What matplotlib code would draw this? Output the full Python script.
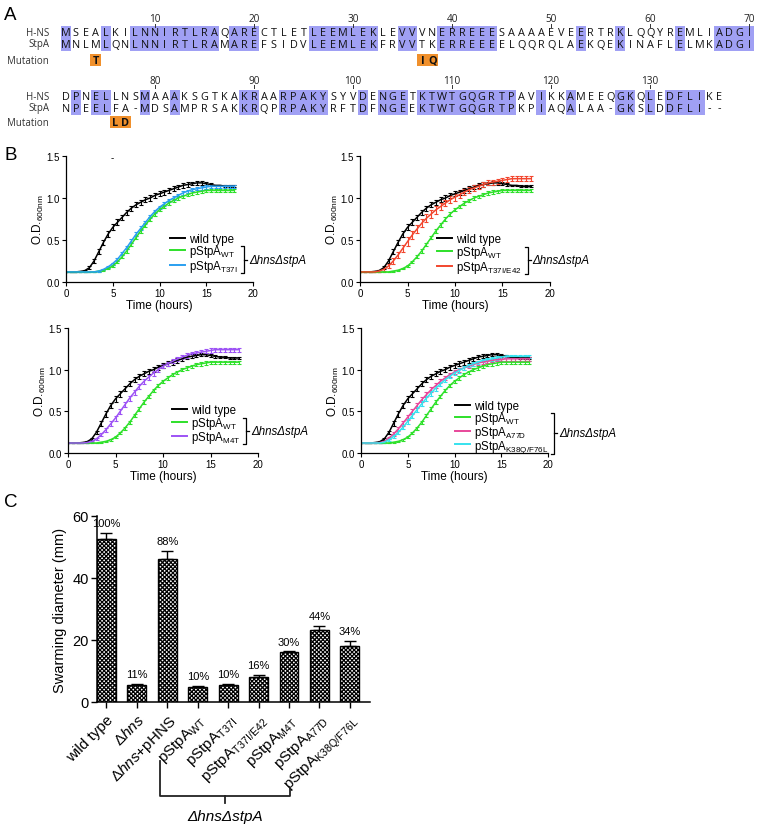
import numpy as np
import matplotlib
matplotlib.use('Agg')
import matplotlib.pyplot as plt
from matplotlib.lines import Line2D
from matplotlib.patches import Rectangle

plt.rcParams['font.family'] = ['Liberation Sans', 'DejaVu Sans']
plt.rcParams['mathtext.fontset'] = 'custom'
plt.rcParams['mathtext.rm'] = 'Liberation Sans'
plt.rcParams['mathtext.it'] = 'Liberation Sans:italic'
plt.rcParams['mathtext.bf'] = 'Liberation Sans:bold'
plt.rcParams['hatch.linewidth'] = 0.9

# ---------------- Panel A data ----------------
hns_chunks = ["MSEALKILNN", "IRTLRAQARE", "CTLETLEEML", "EKLEVVVNER", "REEESAAAAE",
              "VEERTRKLQQ", "YREMLIADGI", "DPNELLNSMA", "AAKSGTKAKR", "AARPAKYSYV",
              "DENGETKTWT", "GQGRTPAVIK", "KAMEEQGKQL", "EDFLIKE"]
stpa_chunks = ["MNLMLQNLNN", "IRTLRAMARE", "FSIDVLEEML", "EKFRVVTKER", "REEEELQQRQ",
               "LAEKQEKINA", "FLELMKADGI", "NPEELFA-MD", "SAMPRSAKKR", "QPRPAKYRFT",
               "DFNGEEKTWT", "GQGRTPKPIA", "QALAA-GKSL", "DDFLI--"]
mut_pos = [4, 37, 38, 76, 77]
mut_aa = ['T', 'I', 'Q', 'L', 'D']

# ---------------- Panel B data ----------------
time_h = [0, 0.5, 1, 1.5, 2, 2.5, 3, 3.5, 4, 4.5, 5, 5.5, 6, 6.5, 7, 7.5, 8, 8.5, 9, 9.5,
          10, 10.5, 11, 11.5, 12, 12.5, 13, 13.5, 14, 14.5, 15, 15.5, 16, 16.5, 17, 17.5, 18]

od_wt = [0.12, 0.12, 0.12, 0.125, 0.135, 0.17, 0.25, 0.36, 0.47, 0.57,
         0.65, 0.71, 0.77, 0.83, 0.88, 0.92, 0.95, 0.98, 1.00, 1.03,
         1.05, 1.07, 1.09, 1.11, 1.13, 1.15, 1.16, 1.17, 1.18, 1.18,
         1.17, 1.16, 1.15, 1.15, 1.14, 1.14, 1.14]
err_wt = [0.005, 0.005, 0.005, 0.005, 0.01, 0.015, 0.02, 0.03, 0.035, 0.035,
          0.035, 0.035, 0.03, 0.03, 0.03, 0.03, 0.03, 0.03, 0.03, 0.03,
          0.03, 0.03, 0.03, 0.03, 0.025, 0.025, 0.025, 0.02, 0.02, 0.02,
          0.015, 0.015, 0.01, 0.01, 0.01, 0.01, 0.01]

od_pWT = [0.12, 0.12, 0.12, 0.12, 0.12, 0.12, 0.12, 0.13, 0.14, 0.16,
          0.19, 0.24, 0.30, 0.37, 0.45, 0.53, 0.61, 0.68, 0.75, 0.81,
          0.86, 0.90, 0.94, 0.97, 1.00, 1.02, 1.04, 1.06, 1.07, 1.08,
          1.09, 1.09, 1.09, 1.09, 1.09, 1.09, 1.09]
err_pWT = [0.004, 0.004, 0.004, 0.004, 0.004, 0.004, 0.005, 0.006, 0.008, 0.01,
           0.012, 0.015, 0.018, 0.02, 0.02, 0.022, 0.022, 0.022, 0.022, 0.022,
           0.02, 0.02, 0.02, 0.02, 0.02, 0.02, 0.02, 0.02, 0.02, 0.02,
           0.02, 0.02, 0.02, 0.02, 0.02, 0.02, 0.02]

od_T37I = [0.12, 0.12, 0.12, 0.12, 0.12, 0.12, 0.12, 0.13, 0.15, 0.18,
           0.22, 0.27, 0.34, 0.41, 0.49, 0.57, 0.64, 0.71, 0.78, 0.84,
           0.89, 0.93, 0.97, 1.00, 1.03, 1.06, 1.08, 1.10, 1.11, 1.12,
           1.13, 1.14, 1.14, 1.14, 1.14, 1.14, 1.14]
err_T37I = [0.004, 0.004, 0.004, 0.004, 0.004, 0.004, 0.005, 0.006, 0.008, 0.01,
            0.012, 0.015, 0.018, 0.02, 0.02, 0.022, 0.022, 0.022, 0.022, 0.022,
            0.02, 0.02, 0.02, 0.02, 0.02, 0.02, 0.02, 0.02, 0.02, 0.02,
            0.02, 0.02, 0.02, 0.02, 0.02, 0.02, 0.02]

od_T37IE42 = [0.12, 0.12, 0.12, 0.12, 0.13, 0.15, 0.19, 0.25, 0.32, 0.40,
              0.48, 0.56, 0.63, 0.70, 0.76, 0.81, 0.86, 0.90, 0.94, 0.98,
              1.01, 1.04, 1.07, 1.10, 1.12, 1.14, 1.16, 1.18, 1.19, 1.20,
              1.21, 1.22, 1.23, 1.23, 1.23, 1.23, 1.23]
err_T37IE42 = [0.004, 0.004, 0.004, 0.005, 0.01, 0.015, 0.02, 0.03, 0.04, 0.045,
               0.05, 0.05, 0.05, 0.05, 0.05, 0.045, 0.045, 0.045, 0.04, 0.04,
               0.04, 0.04, 0.035, 0.035, 0.035, 0.03, 0.03, 0.03, 0.03, 0.03,
               0.03, 0.03, 0.03, 0.03, 0.03, 0.03, 0.03]

od_M4T = [0.12, 0.12, 0.12, 0.12, 0.125, 0.14, 0.17, 0.22, 0.28, 0.35,
          0.42, 0.50, 0.58, 0.66, 0.73, 0.80, 0.86, 0.91, 0.96, 1.00,
          1.04, 1.07, 1.10, 1.13, 1.15, 1.17, 1.19, 1.20, 1.21, 1.22,
          1.23, 1.24, 1.24, 1.24, 1.24, 1.24, 1.24]
err_M4T = [0.004, 0.004, 0.004, 0.004, 0.006, 0.01, 0.015, 0.02, 0.025, 0.03,
           0.03, 0.03, 0.03, 0.03, 0.03, 0.03, 0.03, 0.03, 0.03, 0.03,
           0.025, 0.025, 0.025, 0.025, 0.025, 0.025, 0.025, 0.025, 0.025, 0.025,
           0.025, 0.025, 0.025, 0.025, 0.025, 0.025, 0.025]

od_A77D = [0.12, 0.12, 0.12, 0.12, 0.125, 0.14, 0.18, 0.23, 0.29, 0.36,
           0.43, 0.50, 0.57, 0.64, 0.70, 0.76, 0.81, 0.86, 0.90, 0.94,
           0.97, 1.00, 1.02, 1.04, 1.06, 1.08, 1.09, 1.10, 1.11, 1.12,
           1.12, 1.13, 1.13, 1.13, 1.13, 1.13, 1.13]
err_A77D = [0.004, 0.004, 0.004, 0.004, 0.006, 0.01, 0.015, 0.02, 0.025, 0.03,
            0.03, 0.03, 0.03, 0.03, 0.03, 0.03, 0.03, 0.025, 0.025, 0.025,
            0.025, 0.025, 0.02, 0.02, 0.02, 0.02, 0.02, 0.02, 0.02, 0.02,
            0.02, 0.02, 0.02, 0.02, 0.02, 0.02, 0.02]

od_K38QF76L = [0.12, 0.12, 0.12, 0.12, 0.12, 0.13, 0.16, 0.20, 0.25, 0.31,
               0.38, 0.45, 0.52, 0.59, 0.66, 0.72, 0.78, 0.83, 0.88, 0.92,
               0.96, 0.99, 1.02, 1.05, 1.07, 1.09, 1.11, 1.12, 1.13, 1.14,
               1.15, 1.16, 1.16, 1.16, 1.16, 1.16, 1.16]
err_K38QF76L = [0.004, 0.004, 0.004, 0.004, 0.005, 0.008, 0.012, 0.018, 0.022, 0.025,
                0.028, 0.03, 0.03, 0.03, 0.03, 0.03, 0.03, 0.028, 0.025, 0.025,
                0.025, 0.025, 0.022, 0.022, 0.02, 0.02, 0.02, 0.02, 0.02, 0.02,
                0.02, 0.02, 0.02, 0.02, 0.02, 0.02, 0.02]

# ---------------- Panel C data ----------------
swarm_labels = ['wild type', 'Δ$\\it{hns}$', 'Δ$\\it{hns}$+pHNS',
                'pStpA$_{\\mathrm{WT}}$', 'pStpA$_{\\mathrm{T37I}}$',
                'pStpA$_{\\mathrm{T37I/E42}}$', 'pStpA$_{\\mathrm{M4T}}$',
                'pStpA$_{\\mathrm{A77D}}$', 'pStpA$_{\\mathrm{K38Q/F76L}}$']
swarm_mean = [52.5, 5.6, 46.0, 5.0, 5.4, 8.2, 16.0, 23.3, 18.2]
swarm_err = [2.0, 0.2, 2.8, 0.2, 0.3, 0.4, 0.3, 1.3, 1.5]
swarm_pct = ['100%', '11%', '88%', '10%', '10%', '16%', '30%', '44%', '34%']

# ---------------- figure ----------------
W, H = 760, 828
fig = plt.figure(figsize=(W / 100, H / 100), dpi=100)


def add_ax(l, t, r, b):
    return fig.add_axes([l / W, 1 - b / H, (r - l) / W, (b - t) / H])


def fx(x):
    return x / W


def fy(y):
    return 1 - y / H


# ---------- Panel A ----------
axA = add_ax(0, 0, W, 132)
axA.set_xlim(0, W)
axA.set_ylim(132, 0)
axA.axis('off')
hns = ''.join(hns_chunks)
stpa = ''.join(stpa_chunks)
x0, step, per_row = 66.0, 9.9, 70
rows = [dict(h=33, s=45, m=61, n=20), dict(h=97, s=109, m=123, n=81)]
seq_font = dict(family=['Open Sans', 'DejaVu Sans'], fontsize=7.8, color='#111111')
for r, ry in enumerate(rows):
    seg_h = hns[r * per_row:(r + 1) * per_row]
    seg_s = stpa[r * per_row:(r + 1) * per_row]
    for i, (a, b) in enumerate(zip(seg_h, seg_s)):
        x = x0 + i * step
        if a == b and a != '-':
            axA.add_patch(Rectangle((x - step / 2, ry['h'] - 6.5), step,
                                    ry['s'] - ry['h'] + 13, facecolor='#a0a0f4',
                                    edgecolor='none', zorder=1))
        axA.text(x, ry['h'], a, ha='center', va='center', zorder=3, **seq_font)
        axA.text(x, ry['s'], b, ha='center', va='center', zorder=3, **seq_font)
        pos = r * per_row + i + 1
        if pos % 10 == 0:
            axA.text(x, ry['n'], str(pos), ha='center', va='center',
                     family=['Open Sans', 'DejaVu Sans'], fontsize=7.2, color='#222222')
            axA.plot([x, x], [ry['n'] + 4.5, ry['n'] + 7.5], color='#333333', lw=0.7)
    for lab, yy in (('H-NS', ry['h']), ('StpA', ry['s']), ('Mutation', ry['m'])):
        axA.text(49, yy, lab, ha='right', va='center',
                 family=['Open Sans', 'DejaVu Sans'], fontsize=7.0, color='#333333')
for p, aa in zip(mut_pos, mut_aa):
    r = (p - 1) // per_row
    i = (p - 1) % per_row
    x = x0 + i * step
    ym = rows[r]['m']
    axA.add_patch(Rectangle((x - step / 2 - 0.3, ym - 6), step + 0.6, 12,
                            facecolor='#f0902c', edgecolor='none', zorder=1))
    axA.text(x, ym, aa, ha='center', va='center', fontweight='bold', zorder=3,
             family=['Open Sans', 'DejaVu Sans'], fontsize=7.8, color='#111111')

# panel letters
fig.text(fx(4), fy(16), 'A', fontsize=13.5, va='center', ha='left')
fig.text(fx(4), fy(156), 'B', fontsize=13.5, va='center', ha='left')
fig.text(fx(4), fy(503), 'C', fontsize=13.5, va='center', ha='left')

# ---------- Panel B ----------
c_wt, c_pwt = 'black', '#2ee02a'


def growth(rect, series, labels, leg_anchor, spacing):
    ax = add_ax(*rect)
    for y, e, c in series:
        ax.errorbar(time_h, y, yerr=e, color=c, lw=1.1, elinewidth=0.8,
                    capsize=1.5, capthick=0.8)
    ax.set_xlim(0, 20)
    ax.set_ylim(0, 1.5)
    ax.set_xticks([0, 5, 10, 15, 20])
    ax.set_yticks([0, 0.5, 1.0, 1.5])
    ax.yaxis.set_major_formatter('{x:.1f}')
    for s in ('top', 'right'):
        ax.spines[s].set_visible(False)
    for s in ('left', 'bottom'):
        ax.spines[s].set_linewidth(0.9)
    ax.tick_params(length=3, width=0.8, labelsize=7, pad=1.5)
    ax.set_xlabel('Time (hours)', fontsize=8.5, labelpad=0.5)
    ax.set_ylabel('O.D.$_{\\mathrm{600nm}}$', fontsize=8.5, labelpad=0)
    handles = [Line2D([], [], color=c, lw=1.4) for _, _, c in series]
    leg = ax.legend(handles, labels, loc='upper left', bbox_to_anchor=leg_anchor,
                    frameon=False, fontsize=8.3, handlelength=1.3, handletextpad=0.35,
                    labelspacing=spacing, borderpad=0, borderaxespad=0)
    return ax, leg


def legend_bracket(leg, first=1):
    fig.canvas.draw()
    rend = fig.canvas.get_renderer()
    bbs = [t.get_window_extent(rend) for t in leg.get_texts()]
    sub = bbs[first:]
    xr = max(bb.x1 for bb in sub) + 6
    y0 = min(bb.y0 for bb in sub) + 1
    y1 = max(bb.y1 for bb in sub) - 3
    xs = [xr - 3, xr, xr, xr - 3]
    ys = [y1, y1, y0, y0]
    fig.add_artist(Line2D([x / W for x in xs], [y / H for y in ys],
                          transform=fig.transFigure, color='black', lw=0.9))
    ym = (y0 + y1) / 2
    fig.add_artist(Line2D([xr / W, (xr + 3) / W], [ym / H, ym / H],
                          transform=fig.transFigure, color='black', lw=0.9))
    fig.text((xr + 5) / W, ym / H, 'ΔhnsΔstpA', style='italic', fontsize=8.3,
             ha='left', va='center')


lab_wt = 'wild type'
lab_pwt = 'pStpA$_{\\mathrm{WT}}$'

ax1, leg1 = growth((66, 157, 253, 283),
                   [(od_wt, err_wt, c_wt), (od_pWT, err_pWT, c_pwt), (od_T37I, err_T37I, '#2a9ff0')],
                   [lab_wt, lab_pwt, 'pStpA$_{\\mathrm{T37I}}$'], (0.556, 0.39), -0.12)
ax2, leg2 = growth((360, 157, 550, 283),
                   [(od_wt, err_wt, c_wt), (od_pWT, err_pWT, c_pwt), (od_T37IE42, err_T37IE42, '#f2462e')],
                   [lab_wt, lab_pwt, 'pStpA$_{\\mathrm{T37I/E42}}$'], (0.405, 0.385), -0.12)
ax3, leg3 = growth((68, 329, 258, 454),
                   [(od_wt, err_wt, c_wt), (od_pWT, err_pWT, c_pwt), (od_M4T, err_M4T, '#9d52f5')],
                   [lab_wt, lab_pwt, 'pStpA$_{\\mathrm{M4T}}$'], (0.547, 0.39), -0.12)
ax4, leg4 = growth((361, 329, 548, 454),
                   [(od_wt, err_wt, c_wt), (od_pWT, err_pWT, c_pwt), (od_A77D, err_A77D, '#e8479a'),
                    (od_K38QF76L, err_K38QF76L, '#36e2ee')],
                   [lab_wt, lab_pwt, 'pStpA$_{\\mathrm{A77D}}$', 'pStpA$_{\\mathrm{K38Q/F76L}}$'],
                   (0.503, 0.42), -0.2)
fig.text(fx(112), fy(158), '-', fontsize=7, ha='center', va='center')

# ---------- Panel C ----------
axC = add_ax(97, 517, 370, 703)
xc = np.arange(len(swarm_mean))
axC.bar(xc, swarm_mean, width=0.62, color='white', edgecolor='black', lw=1.0,
        hatch='xxxxxxxx', zorder=2)
axC.errorbar(xc, swarm_mean, yerr=[np.zeros(len(swarm_err)), swarm_err], fmt='none',
             ecolor='black', elinewidth=1.0, capsize=4, capthick=1.0, zorder=3)
for xi, m, e, p in zip(xc, swarm_mean, swarm_err, swarm_pct):
    axC.text(xi, m + e + 1.6, p, ha='center', va='bottom', fontsize=8)
axC.set_xlim(-0.31, 8.66)
axC.set_ylim(0, 60)
axC.set_yticks([0, 20, 40, 60])
axC.set_xticks(xc)
axC.set_xticklabels(swarm_labels, rotation=45, ha='right', rotation_mode='anchor',
                    fontsize=11)
for s in ('top', 'right'):
    axC.spines[s].set_visible(False)
for s in ('left', 'bottom'):
    axC.spines[s].set_linewidth(1.1)
axC.tick_params(axis='y', length=4, width=1.0, labelsize=10.5, pad=2)
axC.tick_params(axis='x', length=4, width=1.0, pad=3)
axC.set_ylabel('Swarming diameter (mm)', fontsize=10.5, labelpad=4)

# bracket under panel C
bx = [160, 160, 290, 290]
byy = [762, 797, 797, 789]
fig.add_artist(Line2D([fx(v) for v in bx], [fy(v) for v in byy],
                      transform=fig.transFigure, color='#222222', lw=1.3))
fig.add_artist(Line2D([fx(225), fx(225)], [fy(797), fy(804)],
                      transform=fig.transFigure, color='#222222', lw=1.3))
fig.text(fx(225), fy(817), 'ΔhnsΔstpA', style='italic', fontsize=11,
         ha='center', va='center')

for lg in (leg1, leg2, leg3, leg4):
    legend_bracket(lg, 1)

fig.savefig('out.png', dpi=100)
